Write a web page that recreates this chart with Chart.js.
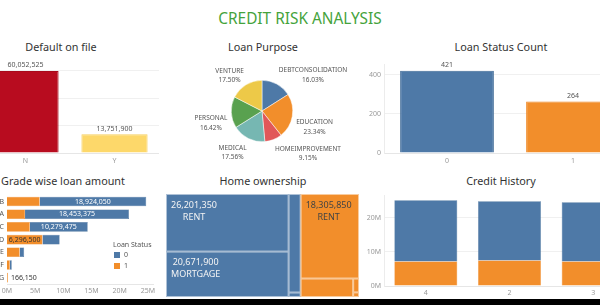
<!DOCTYPE html>
<html>
<head>
<meta charset="utf-8">
<script src="https://cdn.jsdelivr.net/npm/chart.js@4.4.1/dist/chart.umd.min.js"></script>
<style>
  body { margin:0; width:600px; height:305px; overflow:hidden; background:#fff; position:relative; font-family:'Noto Sans', sans-serif; }
  canvas { position:absolute; }
  .t { position:absolute; white-space:nowrap; transform:translate(-50%,-50%); font-size:10.8px; color:#333; }
  .main { font-size:15.4px; color:#45a33c; }
  .lg { position:absolute; font-size:7px; color:#555; white-space:nowrap; }
  .sq { position:absolute; width:6px; height:6px; }
  #bottom { position:absolute; left:0; top:299px; width:600px; height:6px; background:#000; }
</style>
</head>
<body>
<div class="t main" style="left:300px;top:18px">CREDIT RISK ANALYSIS</div>
<div class="t" style="left:61px;top:46px">Default on file</div>
<div class="t" style="left:263px;top:46px">Loan Purpose</div>
<div class="t" style="left:501px;top:46px">Loan Status Count</div>
<div class="t" style="left:63px;top:180px">Grade wise loan amount</div>
<div class="t" style="left:263px;top:180px">Home ownership</div>
<div class="t" style="left:501px;top:180px">Credit History</div>

<canvas id="default-chart" width="178" height="112" style="left:-19px;top:56px"></canvas>
<canvas id="purpose-chart" width="182" height="112" style="left:171px;top:55px"></canvas>
<canvas id="status-chart" width="284" height="112" style="left:352px;top:56px"></canvas>
<canvas id="grade-chart" width="168" height="110" style="left:-10px;top:188px"></canvas>
<canvas id="home-chart" width="193" height="103" style="left:166px;top:194px"></canvas>
<canvas id="history-chart" width="283" height="110" style="left:352px;top:188px"></canvas>

<div class="lg" style="left:113px;top:240px">Loan Status</div>
<div class="sq" style="left:114px;top:252px;background:#4e79a7"></div>
<div class="lg" style="left:124px;top:250px">0</div>
<div class="sq" style="left:114px;top:263px;background:#f28e2b"></div>
<div class="lg" style="left:124px;top:261px">1</div>
<div id="bottom"></div>

<script>
//! data
const defaultLabels = ['N', 'Y']
const defaultAmounts = [60052525, 13751900]
const defaultTicks = [0, 20e6, 40e6, 60e6]

const purposeLabels = ['DEBTCONSOLIDATION', 'EDUCATION', 'HOMEIMPROVEMENT', 'MEDICAL', 'PERSONAL', 'VENTURE']
const purposeShares = [16.03, 23.34, 9.15, 17.56, 16.42, 17.50]

const statusLabels = ['0', '1']
const statusCounts = [421, 264]
const statusTicks = [0, 200, 400]

const gradeLabels = ['B', 'A', 'C', 'D', 'E', 'F', 'G']
const gradeStatus1 = [5796675, 3200000, 4050000, 6296500, 2250000, 500000, 166150]
const gradeStatus0 = [18924050, 18453375, 10279475, 3050000, 800000, 350000, 0]
const gradeTicks = [0, 5e6, 10e6, 15e6, 20e6, 25e6]

const homeLabels = ['RENT', 'MORTGAGE', 'OWN', 'OTHER']
const homeStatus0 = [26201350, 20671900, 4400000, 200000]
const homeStatus1 = [18305850, 3600000, 300000, 100000]

const historyLabels = ['4', '2', '3']
const historyStatus1 = [7200000, 7450000, 7200000]
const historyStatus0 = [17900000, 17350000, 17300000]
const historyTicks = [0, 10e6, 20e6]

const BLUE = '#4e79a7', ORANGE = '#f28e2b'
const FONT = '"Noto Sans"'

Chart.defaults.font.family = FONT
Chart.defaults.font.size = 7
Chart.defaults.color = '#999'
Chart.defaults.animation = false
Chart.defaults.responsive = false
Chart.defaults.plugins.legend.display = false
Chart.defaults.plugins.tooltip.enabled = false

const fmt = v => v.toLocaleString('en-US')
const millions = v => (v / 1e6) + 'M'

//! label above the bars
const topLabels = {
    id: 'topLabels',
    afterDatasetsDraw(chart) {
        const ctx = chart.ctx
        const ds = chart.data.datasets[0]
        ctx.save()
        ctx.font = '7px ' + FONT
        ctx.fillStyle = '#555'
        ctx.textAlign = 'center'
        ctx.textBaseline = 'bottom'
        chart.getDatasetMeta(0).data.forEach((bar, i) => {
            ctx.fillText(fmt(ds.data[i]), bar.x, bar.y - 2)
        })
        ctx.restore()
    }
}

function fixedTicks(list) {
    return scale => { scale.ticks = list.map(v => ({ value: v })) }
}

function simpleBar(id, labels, data, colors, borders, ticks, max, showTicks, fmtTick) {
    return new Chart(document.getElementById(id), {
        type: 'bar',
        data: {
            labels,
            datasets: [{
                data,
                backgroundColor: colors,
                borderColor: borders,
                borderWidth: 1,
                categoryPercentage: 0.8,
                barPercentage: 0.93
            }]
        },
        options: {
            layout: { padding: { top: 8, left: 0, right: 0, bottom: 0 } },
            scales: {
                x: {
                    grid: { display: false, drawTicks: false },
                    border: { color: '#e6e6e6' },
                    ticks: { padding: 4 },
                    afterFit: s => { s.height = 15 }
                },
                y: {
                    min: 0, max,
                    afterBuildTicks: fixedTicks(ticks),
                    grid: { color: '#f0f0f0', drawTicks: false },
                    border: { display: showTicks, color: '#ececec' },
                    ticks: { display: showTicks, padding: 3, callback: fmtTick },
                    afterFit: s => { s.width = showTicks ? 32 : 0 }
                }
            }
        },
        plugins: [topLabels]
    })
}

//! Default on file
simpleBar('default-chart', defaultLabels, defaultAmounts,
    ['#b80c1f', '#fdd86a'], ['#a80a1b', '#f7d060'], defaultTicks, 65.1e6, false)

//! Loan Status Count
simpleBar('status-chart', statusLabels, statusCounts,
    [BLUE, ORANGE], ['#3e6995', '#ee8420'], statusTicks, 456, true, v => v)

//! Loan Purpose pie with outside labels
const pieLabels = {
    id: 'pieLabels',
    afterDatasetsDraw(chart) {
        const ctx = chart.ctx
        ctx.save()
        ctx.font = '6.5px ' + FONT
        ctx.fillStyle = '#555'
        ctx.textAlign = 'center'
        ctx.textBaseline = 'middle'
        const lh = 9.5
        chart.getDatasetMeta(0).data.forEach((arc, i) => {
            const mid = (arc.startAngle + arc.endAngle) / 2
            const r = arc.outerRadius + 4
            const ax = arc.x + Math.cos(mid) * r
            const ay = arc.y + Math.sin(mid) * r
            const lines = [purposeLabels[i], purposeShares[i].toFixed(2) + '%']
            const w = Math.max(...lines.map(l => ctx.measureText(l).width))
            const left = Math.cos(mid) >= 0 ? ax : ax - w
            const top = Math.sin(mid) > 0 ? ay + 1 : ay - lh * 2 + 4
            lines.forEach((l, j) => ctx.fillText(l, left + w / 2, top + lh * j + lh / 2))
        })
        ctx.restore()
    }
}
new Chart(document.getElementById('purpose-chart'), {
    type: 'pie',
    data: {
        labels: purposeLabels,
        datasets: [{
            data: purposeShares,
            backgroundColor: [BLUE, ORANGE, '#e15759', '#76b7b2', '#59a14f', '#edc948'],
            borderColor: '#fff',
            borderWidth: 0.5
        }]
    },
    options: { layout: { padding: { left: 60, right: 60, top: 25, bottom: 25 } } },
    plugins: [pieLabels]
})

//! Grade wise loan amount (stacked horizontal)
const gradeLabelsPlugin = {
    id: 'gradeLabels',
    afterDatasetsDraw(chart) {
        const ctx = chart.ctx
        ctx.save()
        ctx.font = '7px ' + FONT
        ctx.textBaseline = 'middle'
        chart.data.datasets.forEach((ds, d) => {
            chart.getDatasetMeta(d).data.forEach((bar, i) => {
                const v = ds.data[i]
                if (!v) return
                const txt = fmt(v)
                const tw = ctx.measureText(txt).width
                const segW = bar.x - bar.base
                const other = chart.data.datasets[1 - d].data[i]
                if (tw + 1 <= segW) {
                    ctx.textAlign = 'center'
                    ctx.fillStyle = d === 0 ? '#333' : '#fff'
                    ctx.fillText(txt, (bar.x + bar.base) / 2, bar.y)
                } else if (!other) {
                    ctx.textAlign = 'left'
                    ctx.fillStyle = '#333'
                    ctx.fillText(txt, bar.x + 3, bar.y)
                }
            })
        })
        ctx.restore()
    }
}
new Chart(document.getElementById('grade-chart'), {
    type: 'bar',
    data: {
        labels: gradeLabels,
        datasets: [
            { label: '1', data: gradeStatus1, backgroundColor: ORANGE, borderColor: '#ee8420', borderWidth: 0.5 },
            { label: '0', data: gradeStatus0, backgroundColor: BLUE, borderColor: '#3e6995', borderWidth: 0.5 }
        ]
    },
    options: {
        indexAxis: 'y',
        datasets: { bar: { categoryPercentage: 0.8, barPercentage: 0.95 } },
        layout: { padding: { top: 3, left: 0, right: 0, bottom: 0 } },
        scales: {
            x: {
                stacked: true, min: 0, max: 26e6,
                afterBuildTicks: fixedTicks(gradeTicks),
                grid: { display: false, drawTicks: false },
                border: { color: '#e6e6e6' },
                ticks: { padding: 3, callback: millions },
                afterFit: s => { s.height = 14 }
            },
            y: {
                stacked: true,
                grid: { display: false, drawTicks: false },
                border: { display: false },
                ticks: { color: '#555', padding: 3 },
                afterFit: s => { s.width = 17 }
            }
        }
    },
    plugins: [gradeLabelsPlugin]
})

//! Home ownership treemap, cells laid out in value units and drawn through the scales
const homeTree0 = { dir: 'h', kids: [{ dir: 'v', kids: [0, 1] }, { dir: 'v', kids: [2, 3] }] }
const homeTree1 = { dir: 'v', kids: [0, { dir: 'h', kids: [1, { dir: 'v', kids: [2, 3] }] }] }

function sumNode(node, values) {
    return typeof node === 'number' ? values[node] : node.kids.reduce((a, k) => a + sumNode(k, values), 0)
}
function sliceLayout(node, values, x0, x1, y0, y1, out) {
    if (typeof node === 'number') { out.push({ i: node, x0, x1, y0, y1 }); return }
    const total = sumNode(node, values)
    let pos = node.dir === 'h' ? x0 : y0
    node.kids.forEach(k => {
        const part = sumNode(k, values) / total
        if (node.dir === 'h') {
            const w = (x1 - x0) * part
            sliceLayout(k, values, pos, pos + w, y0, y1, out)
            pos += w
        } else {
            const h = (y1 - y0) * part
            sliceLayout(k, values, x0, x1, pos, pos + h, out)
            pos += h
        }
    })
}
const total0 = homeStatus0.reduce((a, b) => a + b, 0)
const total1 = homeStatus1.reduce((a, b) => a + b, 0)
const cells0 = [], cells1 = []
sliceLayout(homeTree0, homeStatus0, 0, total0, 0, 1, cells0)
sliceLayout(homeTree1, homeStatus1, total0, total0 + total1, 0, 1, cells1)

const treemapPlugin = {
    id: 'treemap',
    afterDraw(chart) {
        const { ctx, scales: { x, y } } = chart
        const groups = [[cells0, homeStatus0, BLUE, '#f4f4f4'], [cells1, homeStatus1, ORANGE, '#444']]
        ctx.save()
        groups.forEach(([cells, values, color, textColor]) => {
            cells.forEach(c => {
                const px0 = x.getPixelForValue(c.x0), px1 = x.getPixelForValue(c.x1)
                const py0 = y.getPixelForValue(c.y0), py1 = y.getPixelForValue(c.y1)
                ctx.fillStyle = color
                ctx.fillRect(px0, py0, px1 - px0, py1 - py0)
                ctx.strokeStyle = 'rgba(255,255,255,0.55)'
                ctx.lineWidth = 1
                ctx.strokeRect(px0 + 0.5, py0 + 0.5, px1 - px0 - 1, py1 - py0 - 1)
                if (px1 - px0 > 50 && py1 - py0 > 25) {
                    ctx.font = '9px ' + FONT
                    ctx.fillStyle = textColor
                    ctx.textAlign = 'center'
                    ctx.textBaseline = 'middle'
                    const lines = [fmt(values[c.i]), homeLabels[c.i]]
                    const w = Math.max(...lines.map(l => ctx.measureText(l).width))
                    lines.forEach((l, j) => ctx.fillText(l, px0 + 5 + w / 2, py0 + 11 + j * 12))
                }
            })
        })
        ctx.restore()
    }
}
new Chart(document.getElementById('home-chart'), {
    type: 'scatter',
    data: { datasets: [{ data: [] }] },
    options: {
        layout: { padding: 0 },
        scales: {
            x: { display: false, min: 0, max: total0 + total1 },
            y: { display: false, min: 0, max: 1, reverse: true }
        }
    },
    plugins: [treemapPlugin]
})

//! Credit History stacked bars
new Chart(document.getElementById('history-chart'), {
    type: 'bar',
    data: {
        labels: historyLabels,
        datasets: [
            { label: '1', data: historyStatus1, backgroundColor: ORANGE, borderColor: '#ee8420', borderWidth: 0.5 },
            { label: '0', data: historyStatus0, backgroundColor: BLUE, borderColor: '#3e6995', borderWidth: 0.5 }
        ]
    },
    options: {
        datasets: { bar: { categoryPercentage: 0.8, barPercentage: 0.94 } },
        layout: { padding: { top: 2, left: 0, right: 0, bottom: 0 } },
        scales: {
            x: {
                stacked: true,
                grid: { display: false, drawTicks: false },
                border: { color: '#e6e6e6' },
                ticks: { padding: 3 },
                afterFit: s => { s.height = 12 }
            },
            y: {
                stacked: true, min: 0, max: 26.6e6,
                afterBuildTicks: fixedTicks(historyTicks),
                grid: { color: '#f0f0f0', drawTicks: false },
                border: { color: '#ececec' },
                ticks: { padding: 3, callback: millions },
                afterFit: s => { s.width = 32 }
            }
        }
    }
})
</script>
</body>
</html>
